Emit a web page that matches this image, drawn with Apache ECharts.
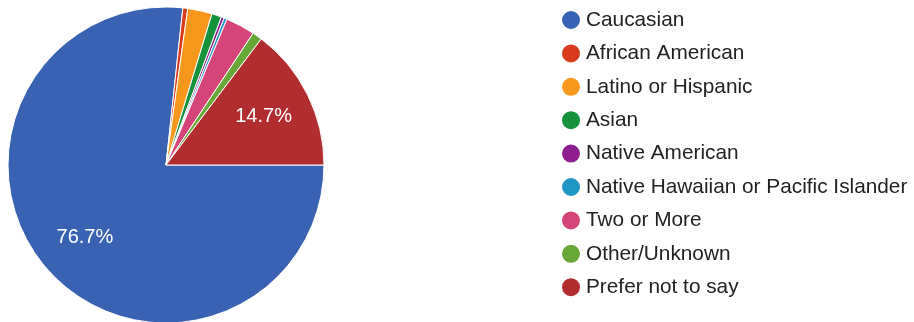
<!DOCTYPE html>
<html><head><meta charset="utf-8">
<script src="https://cdn.jsdelivr.net/npm/echarts@6/dist/echarts.min.js"></script>
<style>html,body{margin:0;padding:0;background:#fff}#c{width:914px;height:322px}</style>
</head><body><div id="c"></div>
<script>
const categories = ["Caucasian","African American","Latino or Hispanic","Asian","Native American","Native Hawaiian or Pacific Islander","Two or More","Other/Unknown","Prefer not to say"];
const values = [76.7, 0.5, 2.5, 1.0, 0.3, 0.3, 3.0, 1.0, 14.7];
const colors = ["#3a62b3","#d83b1c","#f7971c","#16923c","#8e1e90","#1f96c4","#d6457a","#67a836","#b22d2f"];

const data = categories.map((n,i)=>({name:n,value:values[i],itemStyle:{color:colors[i]}}));
const chart = echarts.init(document.getElementById('c'), null, {renderer:'canvas'});
chart.setOption({
  animation:false,
  legend:{
    orient:'vertical', left:555, top:4, height:320, itemWidth:20, itemHeight:20, itemGap:11.4,
    icon:'circle',
    data: categories.map((n,i)=>({name:n,itemStyle:{color:colors[i]}})),
    textStyle:{fontFamily:'Liberation Sans, Arial, sans-serif',fontSize:20.8,color:'#222',lineHeight:20,padding:[0,0,0,0]},
    selectedMode:false
  },
  series:[
    {type:'pie', center:[166,165], radius:[0,158], startAngle:0, clockwise:true,
     data:data, label:{show:false}, labelLine:{show:false},
     itemStyle:{borderColor:'#fff',borderWidth:1}, silent:true},
    {type:'pie', center:[166,165], radius:[54,158], startAngle:0, clockwise:true,
     data:categories.map((n,i)=>({name:n,value:values[i],itemStyle:{color:'rgba(0,0,0,0)'}})),
     label:{show:true, position:'inside', color:'#fff', fontSize:20, fontFamily:'Liberation Sans, Arial, sans-serif',
       formatter:p=> p.value>=5 ? p.value.toFixed(1)+'%' : ''},
     labelLine:{show:false}, silent:true, legendHoverLink:false}
  ]
});
</script></body></html>
